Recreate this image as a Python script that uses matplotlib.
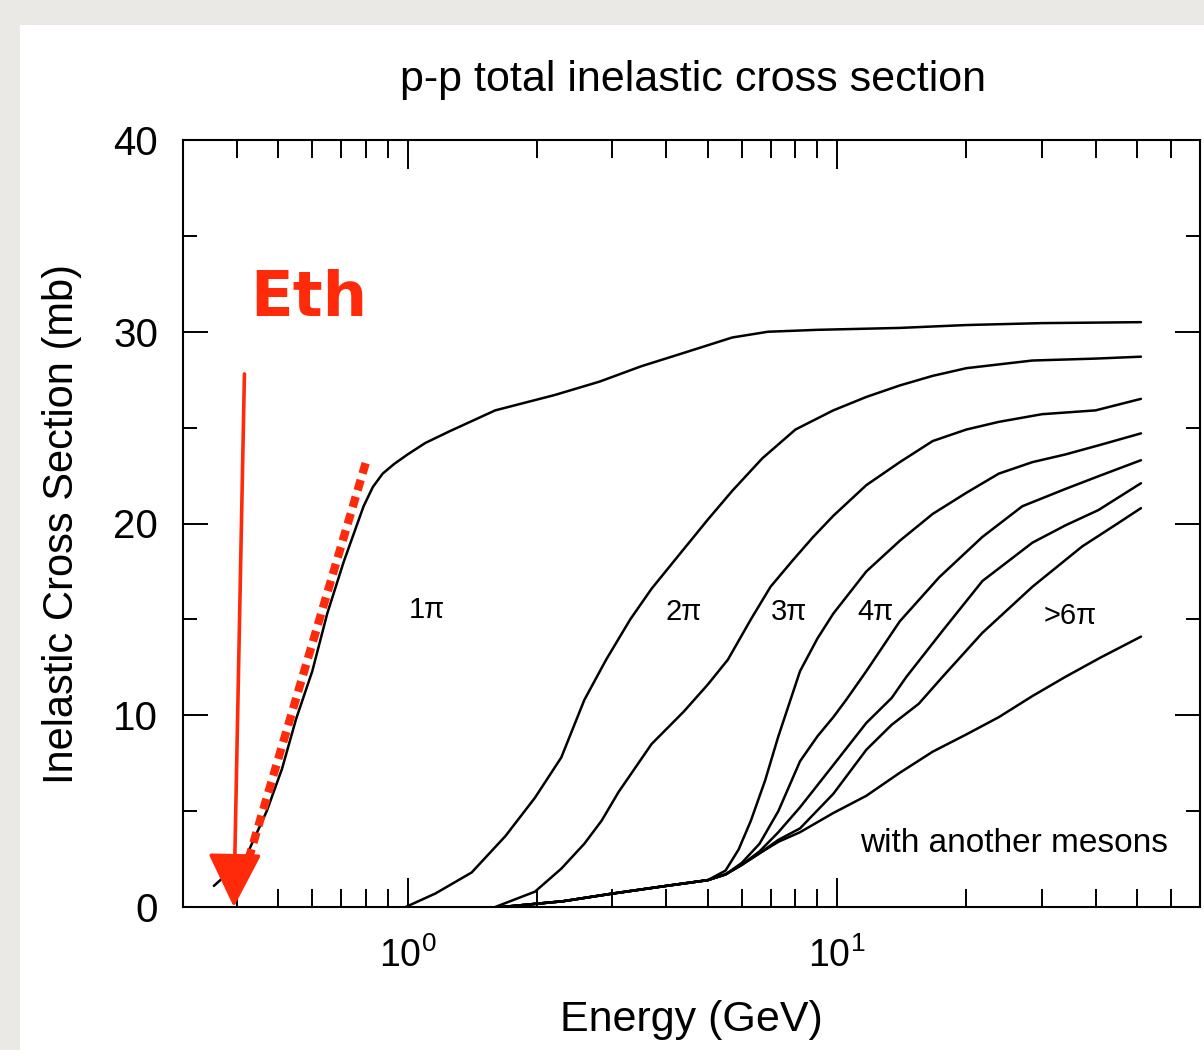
import numpy as np
import matplotlib
matplotlib.use('Agg')
import matplotlib.pyplot as plt
from matplotlib.patches import Rectangle
from matplotlib.ticker import LogLocator, NullFormatter, MultipleLocator

plt.rcParams['font.family'] = ['Liberation Sans', 'DejaVu Sans']
plt.rcParams['mathtext.fontset'] = 'custom'
plt.rcParams['mathtext.rm'] = 'Liberation Sans'

'''数据 (从图上读出的值)'''
# total inelastic
e_tot = [0.354, 0.42, 0.47, 0.51, 0.55, 0.60, 0.65, 0.71, 0.79, 0.83, 0.875, 0.93, 1.0, 1.1, 1.25, 1.6,
         2.2, 2.8, 3.5, 4.4, 5.7, 6.9, 9.0, 14, 20, 30, 51]
s_tot = [1.1, 2.6, 5.0, 7.2, 9.8, 12.3, 15.3, 18.0, 20.9, 21.9, 22.6, 23.1, 23.6, 24.2, 24.8, 25.9,
         26.7, 27.4, 28.2, 28.9, 29.7, 30.0, 30.1, 30.2, 30.35, 30.45, 30.5]
# >= 2 pi
e_2 = [0.99, 1.16, 1.41, 1.69, 1.98, 2.28, 2.58, 2.9, 3.3, 3.7, 4.3, 5.0, 5.7, 6.7, 8.0, 9.8, 11.7,
       14, 16.7, 20, 28.5, 40, 51]
s_2 = [0.0, 0.7, 1.8, 3.7, 5.7, 7.8, 10.8, 12.9, 15.0, 16.6, 18.4, 20.2, 21.7, 23.4, 24.9, 25.9, 26.6,
       27.2, 27.7, 28.1, 28.5, 28.6, 28.7]
# >= 3 pi
e_3 = [1.6, 1.98, 2.28, 2.58, 2.83, 3.1, 3.7, 4.4, 5.0, 5.57, 6.3, 7.0, 7.9, 8.8, 9.8, 11.7, 14,
       16.7, 20, 23.8, 30, 40, 51]
s_3 = [0.0, 0.8, 2.0, 3.3, 4.5, 6.0, 8.5, 10.2, 11.6, 12.9, 15.0, 16.7, 18.1, 19.3, 20.4, 22.0, 23.2,
       24.3, 24.9, 25.3, 25.7, 25.9, 26.5]
# >= 4 pi
e_4 = [1.66, 2.3, 3.0, 4.0, 5.0, 5.5, 5.9, 6.3, 6.8, 7.3, 8.2, 9.0, 9.8, 11.7, 14, 16.7, 20, 23.8,
       28.5, 34, 41, 51]
s_4 = [0.0, 0.3, 0.7, 1.1, 1.4, 1.9, 3.0, 4.5, 6.6, 8.9, 12.3, 14.0, 15.3, 17.5, 19.1, 20.5, 21.6, 22.6,
       23.2, 23.6, 24.1, 24.7]
# >= 5 pi
e_5 = [1.66, 2.3, 3.0, 4.0, 5.0, 5.5, 6.0, 6.6, 7.3, 8.2, 9.0, 9.8, 10.5, 11.7, 14, 17.3, 21.8, 27,
       34, 41, 51]
s_5 = [0.0, 0.3, 0.7, 1.1, 1.4, 1.7, 2.3, 3.3, 5.0, 7.6, 8.9, 9.9, 10.8, 12.3, 14.9, 17.2, 19.3, 20.9,
       21.8, 22.5, 23.3]
# >= 6 pi
e_6 = [1.66, 2.3, 3.0, 4.0, 5.0, 5.5, 6.0, 6.6, 7.3, 8.2, 9.8, 11.7, 13.4, 14.5, 17.6, 21.8, 28.5,
       34, 40.6, 51]
s_6 = [0.0, 0.3, 0.7, 1.1, 1.4, 1.7, 2.2, 2.9, 3.9, 5.2, 7.4, 9.6, 10.9, 12.0, 14.4, 17.0, 19.0,
       19.9, 20.7, 22.1]
# > 6 pi
e_7 = [1.66, 2.3, 3.0, 4.0, 5.0, 5.5, 6.0, 6.6, 7.3, 8.2, 9.8, 11.7, 13.4, 15.5, 17.6, 21.8, 28.5,
       37.2, 45, 51]
s_7 = [0.0, 0.3, 0.7, 1.1, 1.4, 1.7, 2.2, 2.8, 3.5, 4.1, 5.9, 8.2, 9.5, 10.6, 12.0, 14.3, 16.7,
       18.8, 20.0, 20.8]
# with another mesons
e_8 = [1.66, 2.3, 3.0, 4.0, 5.0, 5.5, 6.0, 6.6, 7.3, 8.2, 9.8, 11.7, 14, 16.7, 20, 23.8, 28.5, 34,
       41, 51]
s_8 = [0.0, 0.3, 0.7, 1.1, 1.4, 1.7, 2.2, 2.8, 3.4, 3.9, 4.9, 5.8, 7.0, 8.1, 9.0, 9.9, 11.0, 12.0,
       13.0, 14.1]

curves = [(e_tot, s_tot), (e_2, s_2), (e_3, s_3), (e_4, s_4), (e_5, s_5), (e_6, s_6), (e_7, s_7), (e_8, s_8)]

# 曲线之间的标签
pi_labels = ['1\u03c0', '2\u03c0', '3\u03c0', '4\u03c0', '>6\u03c0']
pi_label_e = [1.11, 4.4, 7.72, 12.3, 34.9]
pi_label_s = [15.5, 15.4, 15.4, 15.4, 15.2]

# 红色标注 Eth
eth_arrow_tail = (0.417, 27.8)
eth_arrow_tip = (0.394, 0.0)
eth_dots_e = [0.415, 0.80]
eth_dots_s = [1.6, 23.2]
RED = '#ff2a0a'

'''画图'''
fig = plt.figure(figsize=(12.04, 10.5), dpi=100)
fig.patch.set_facecolor('#ebe9e5')
fig.patches.append(Rectangle((20 / 1204, 0), 1, 1 - 25 / 1050, transform=fig.transFigure,
                             facecolor='white', edgecolor='none', zorder=-1))

ax = fig.add_axes([183 / 1204, 1 - 907 / 1050, 1017 / 1204, 767 / 1050])
ax.set_xscale('log')
ax.set_xlim(0.3, 70)
ax.set_ylim(0, 40)

for e, s in curves:
    ax.plot(e, s, color='black', lw=1.8, solid_joinstyle='round', solid_capstyle='round')

for t, x, y in zip(pi_labels, pi_label_e, pi_label_s):
    ax.text(x, y, t, fontsize=21, ha='center', va='center')
ax.text(25.8, 3.3, 'with another mesons', fontsize=24, ha='center', va='center')

# Eth
ax.annotate('', xy=eth_arrow_tip, xytext=eth_arrow_tail,
            arrowprops=dict(arrowstyle='-|>,head_length=3.4,head_width=1.7', color=RED, lw=2.6,
                            shrinkA=0, shrinkB=0, mutation_scale=10), zorder=5)
ax.plot(eth_dots_e, eth_dots_s, color=RED, lw=6, linestyle=(0, (1.3, 0.8)),
        dash_capstyle='butt', zorder=4)
ax.text(0.59, 31.7, 'Eth', color=RED, fontsize=45, fontweight='bold', ha='center', va='center',
        family=['DejaVu Sans'])

# 坐标轴
ax.yaxis.set_major_locator(MultipleLocator(10))
ax.yaxis.set_minor_locator(MultipleLocator(5))
ax.xaxis.set_minor_locator(LogLocator(base=10, subs=np.arange(2, 10)))
ax.xaxis.set_minor_formatter(NullFormatter())
ax.tick_params(which='both', direction='in', top=True, right=True, width=1.4, color='black')
ax.tick_params(axis='x', which='major', length=21, labelsize=27, pad=22)
ax.tick_params(axis='x', which='minor', length=13)
ax.tick_params(axis='y', which='major', length=18, labelsize=29, pad=18)
ax.tick_params(axis='y', which='minor', length=10)
for sp in ax.spines.values():
    sp.set_linewidth(1.5)

ax.set_xlabel('Energy (GeV)', fontsize=31, va='center')
ax.xaxis.set_label_coords(0.5, (907 - 1020) / 767)
ax.set_ylabel('Inelastic Cross Section (mb)', fontsize=30, va='center')
ax.yaxis.set_label_coords((62 - 183) / 1017, 0.5)
fig.text(693 / 1204, 1 - 80 / 1050, 'p-p total inelastic cross section', fontsize=31,
         ha='center', va='center')

plt.savefig('out.png', dpi=100, facecolor=fig.get_facecolor())
